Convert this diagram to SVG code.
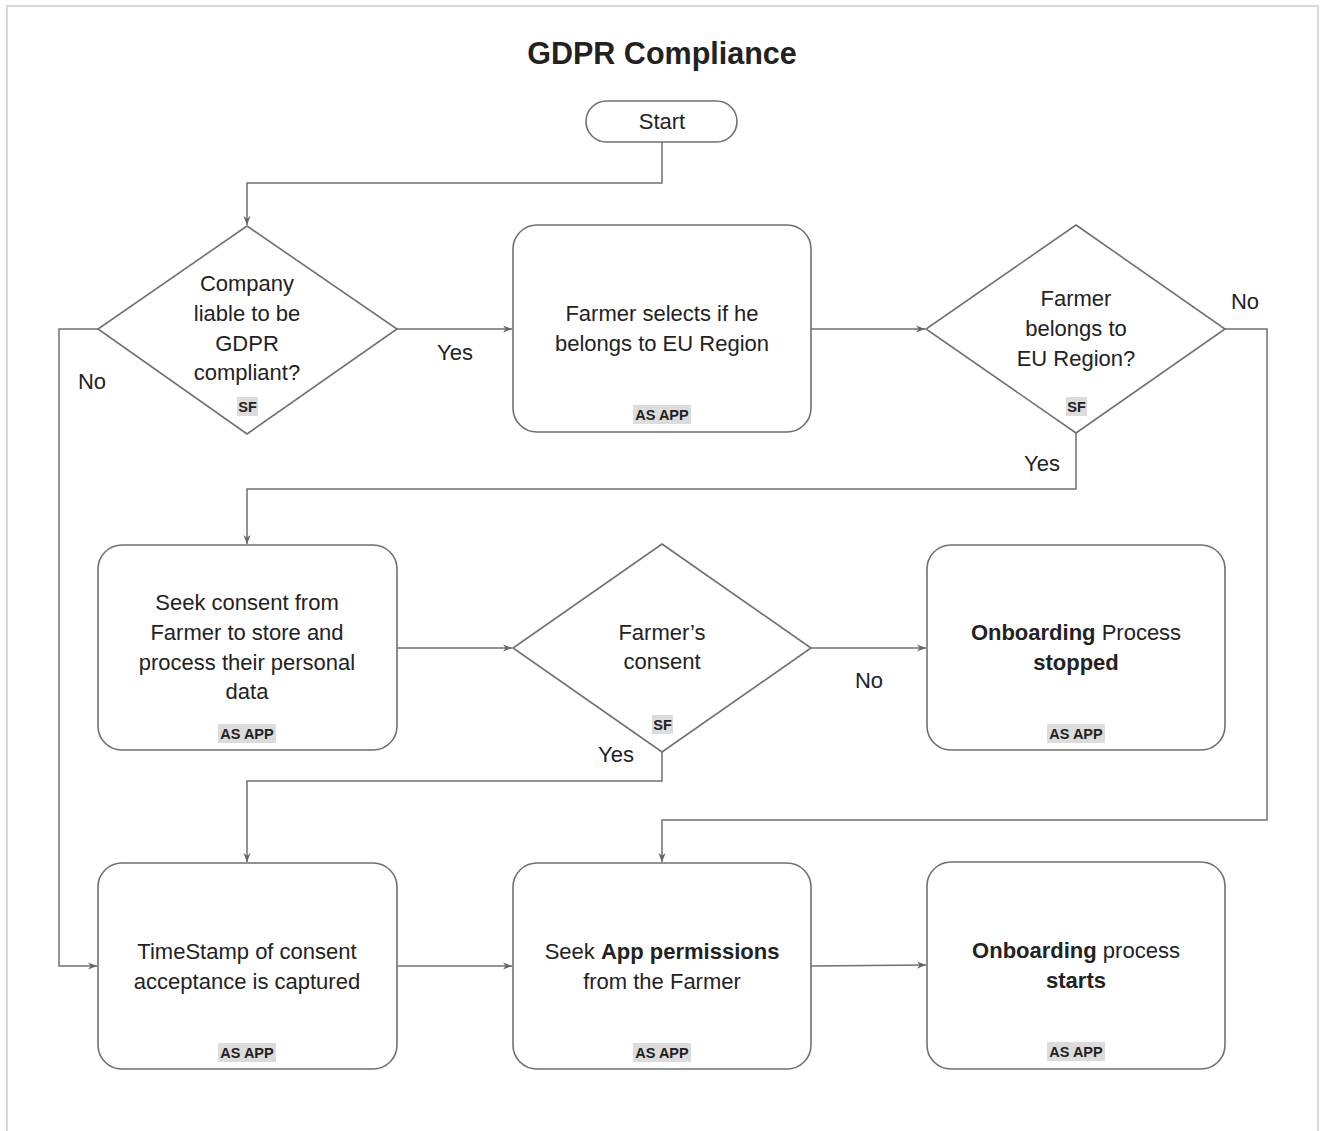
<svg xmlns="http://www.w3.org/2000/svg" width="1320" height="1131" viewBox="0 0 1320 1131">
<defs>
<marker id="arr" viewBox="0 0 10 10" refX="10" refY="5" markerWidth="9" markerHeight="9" markerUnits="userSpaceOnUse" orient="auto">
<path d="M0,1 L10,5 L0,9 L3,5 Z" fill="#666"/>
</marker>
</defs>
<style>
.shape{fill:#fff;stroke:#707070;stroke-width:1.6}
.t{font-family:"Liberation Sans",Arial,sans-serif;font-size:22px;fill:#222;text-anchor:middle}
.b{font-weight:bold}
.tag{font-family:"Liberation Sans",Arial,sans-serif;font-size:14.5px;font-weight:bold;fill:#222;text-anchor:middle}
.hl{fill:#dcdcdc}
.c{fill:none;stroke:#707070;stroke-width:1.5}
.lbl{font-family:"Liberation Sans",Arial,sans-serif;font-size:22px;fill:#222;text-anchor:middle}
</style>
<rect x="0" y="0" width="1320" height="1131" fill="#fff"/>
<rect x="7" y="6" width="1311" height="1140" fill="none" stroke="#d9d9d9" stroke-width="2"/>
<text x="662" y="64" class="t b" style="font-size:30.5px">GDPR Compliance</text>

<g id="connectors">
<path class="c" d="M662,142 V183 H247 V225" marker-end="url(#arr)"/>
<path class="c" d="M397,329 H512" marker-end="url(#arr)"/>
<path class="c" d="M98,329 H59 V966 H97" marker-end="url(#arr)"/>
<path class="c" d="M811,329 H925" marker-end="url(#arr)"/>
<path class="c" d="M1225,329 H1267 V820 H662 V862" marker-end="url(#arr)"/>
<path class="c" d="M1076,433 V489 H247 V544" marker-end="url(#arr)"/>
<path class="c" d="M397,648 H512" marker-end="url(#arr)"/>
<path class="c" d="M811,648 H926" marker-end="url(#arr)"/>
<path class="c" d="M662,752 V781 H247 V862" marker-end="url(#arr)"/>
<path class="c" d="M397,966 H512" marker-end="url(#arr)"/>
<path class="c" d="M811,966 L926,965" marker-end="url(#arr)"/>
<text class="lbl" x="455" y="360">Yes</text>
<text class="lbl" x="92" y="389">No</text>
<text class="lbl" x="1245" y="309">No</text>
<text class="lbl" x="1042" y="471">Yes</text>
<text class="lbl" x="869" y="688">No</text>
<text class="lbl" x="616" y="762">Yes</text>
</g>

<g id="start">
<rect class="shape" x="586" y="101" width="151" height="41" rx="20.5"/>
<text class="t" x="662" y="129">Start</text>
</g>

<g id="d1">
<polygon class="shape" points="247,226 397,329 247,434 98,329"/>
<text class="t" x="247" y="291">Company</text>
<text class="t" x="247" y="321">liable to be</text>
<text class="t" x="247" y="351">GDPR</text>
<text class="t" x="247" y="380">compliant?</text>
<rect class="hl" x="237" y="397" width="21" height="19"/>
<text class="tag" x="247.5" y="412">SF</text>
</g>

<g id="n2">
<rect class="shape" x="513" y="225" width="298" height="207" rx="24"/>
<text class="t" x="662" y="321">Farmer selects if he</text>
<text class="t" x="662" y="351">belongs to EU Region</text>
<rect class="hl" x="633" y="405" width="58" height="19"/>
<text class="tag" x="662" y="420">AS APP</text>
</g>

<g id="d3">
<polygon class="shape" points="1076,225 1225,329 1076,433 926,329"/>
<text class="t" x="1076" y="306">Farmer</text>
<text class="t" x="1076" y="336">belongs to</text>
<text class="t" x="1076" y="366">EU Region?</text>
<rect class="hl" x="1066" y="397" width="21" height="19"/>
<text class="tag" x="1076.5" y="412">SF</text>
</g>

<g id="n4">
<rect class="shape" x="98" y="545" width="299" height="205" rx="24"/>
<text class="t" x="247" y="610">Seek consent from</text>
<text class="t" x="247" y="640">Farmer to store and</text>
<text class="t" x="247" y="670">process their personal</text>
<text class="t" x="247" y="699">data</text>
<rect class="hl" x="218" y="724" width="58" height="19"/>
<text class="tag" x="247" y="739">AS APP</text>
</g>

<g id="d5">
<polygon class="shape" points="662,544 811,648 662,752 513,648"/>
<text class="t" x="662" y="640">Farmer’s</text>
<text class="t" x="662" y="669">consent</text>
<rect class="hl" x="652" y="715" width="21" height="19"/>
<text class="tag" x="662.5" y="730">SF</text>
</g>

<g id="n6">
<rect class="shape" x="927" y="545" width="298" height="205" rx="24"/>
<text class="t" x="1076" y="640"><tspan class="b">Onboarding</tspan> Process</text>
<text class="t b" x="1076" y="670">stopped</text>
<rect class="hl" x="1047" y="724" width="58" height="19"/>
<text class="tag" x="1076" y="739">AS APP</text>
</g>

<g id="n7">
<rect class="shape" x="98" y="863" width="299" height="206" rx="24"/>
<text class="t" x="247" y="959">TimeStamp of consent</text>
<text class="t" x="247" y="989">acceptance is captured</text>
<rect class="hl" x="218" y="1043" width="58" height="19"/>
<text class="tag" x="247" y="1058">AS APP</text>
</g>

<g id="n8">
<rect class="shape" x="513" y="863" width="298" height="206" rx="24"/>
<text class="t" x="662" y="959">Seek <tspan class="b">App permissions</tspan></text>
<text class="t" x="662" y="989">from the Farmer</text>
<rect class="hl" x="633" y="1043" width="58" height="19"/>
<text class="tag" x="662" y="1058">AS APP</text>
</g>

<g id="n9">
<rect class="shape" x="927" y="862" width="298" height="207" rx="24"/>
<text class="t" x="1076" y="958"><tspan class="b">Onboarding</tspan> process</text>
<text class="t b" x="1076" y="988">starts</text>
<rect class="hl" x="1047" y="1042" width="58" height="19"/>
<text class="tag" x="1076" y="1057">AS APP</text>
</g>
</svg>
